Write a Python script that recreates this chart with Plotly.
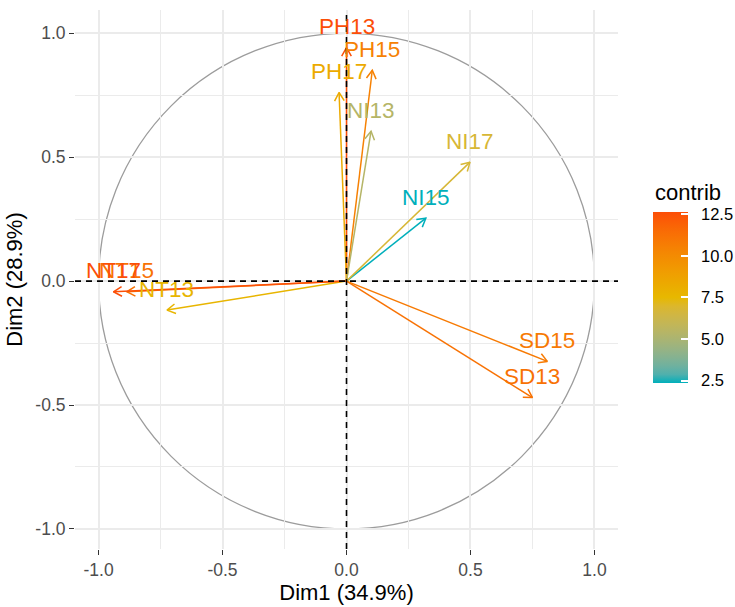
import math
import plotly.graph_objects as go

# ---- data ----
variables = ["NT13", "NT15", "NT17", "PH13", "PH15", "PH17",
             "NI13", "NI15", "NI17", "SD13", "SD15"]
dim1 = [-0.724, -0.886, -0.940, 0.000, 0.104, -0.030,
        0.099, 0.320, 0.498, 0.750, 0.810]
dim2 = [-0.117, -0.043, -0.043, 0.942, 0.851, 0.761,
        0.605, 0.254, 0.480, -0.470, -0.324]
contrib = [7.7, 11.2, 12.6, 12.65, 10.5, 8.3,
           5.4, 2.38, 6.8, 11.2, 10.85]

axis_ticks = [-1.0, -0.5, 0.0, 0.5, 1.0]
axis_ticktext = ["-1.0", "-0.5", "0.0", "0.5", "1.0"]
cbar_ticks = [2.5, 5.0, 7.5, 10.0, 12.5]
cbar_ticktext = ["2.5", "5.0", "7.5", "10.0", "12.5"]
cbar_title = "contrib"
xtitle = "Dim1 (34.9%)"
ytitle = "Dim2 (28.9%)"

gradient_cols = ["#00AFBB", "#E7B800", "#FC4E07"]
cmin, cmax = 2.38, 12.65

FONT = "Liberation Sans, Arial, sans-serif"


# ---- Lab-space gradient (as ggplot's gradientn) ----
def hex_to_rgb(h):
    h = h.lstrip("#")
    return [int(h[i:i + 2], 16) / 255 for i in (0, 2, 4)]


def srgb_to_lin(c):
    return c / 12.92 if c <= 0.04045 else ((c + 0.055) / 1.055) ** 2.4


def lin_to_srgb(c):
    c = min(max(c, 0.0), 1.0)
    return 12.92 * c if c <= 0.0031308 else 1.055 * c ** (1 / 2.4) - 0.055


WHITE = (0.95047, 1.0, 1.08883)


def rgb_to_lab(rgb):
    r, g, b = [srgb_to_lin(c) for c in rgb]
    X = 0.4124 * r + 0.3576 * g + 0.1805 * b
    Y = 0.2126 * r + 0.7152 * g + 0.0722 * b
    Z = 0.0193 * r + 0.1192 * g + 0.9505 * b

    def f(t):
        return t ** (1 / 3) if t > 216 / 24389 else (24389 / 27 * t + 16) / 116
    fx, fy, fz = f(X / WHITE[0]), f(Y / WHITE[1]), f(Z / WHITE[2])
    return (116 * fy - 16, 500 * (fx - fy), 200 * (fy - fz))


def lab_to_hex(lab):
    L, a, bb = lab
    fy = (L + 16) / 116
    fx = fy + a / 500
    fz = fy - bb / 200

    def finv(t):
        return t ** 3 if t ** 3 > 216 / 24389 else (116 * t - 16) / (24389 / 27)
    X, Y, Z = finv(fx) * WHITE[0], finv(fy) * WHITE[1], finv(fz) * WHITE[2]
    r = 3.2406 * X - 1.5372 * Y - 0.4986 * Z
    g = -0.9689 * X + 1.8758 * Y + 0.0415 * Z
    b = 0.0557 * X - 0.2040 * Y + 1.0570 * Z
    return "#%02x%02x%02x" % tuple(round(lin_to_srgb(c) * 255) for c in (r, g, b))


labs = [rgb_to_lab(hex_to_rgb(c)) for c in gradient_cols]


def lab_color(t):
    t = min(max(t, 0.0), 1.0)
    seg = min(int(t * (len(labs) - 1)), len(labs) - 2)
    u = t * (len(labs) - 1) - seg
    a, b = labs[seg], labs[seg + 1]
    return lab_to_hex(tuple(a[i] + (b[i] - a[i]) * u for i in range(3)))


colorscale = [[i / 20, lab_color(i / 20)] for i in range(21)]
colors = [lab_color((v - cmin) / (cmax - cmin)) for v in contrib]

fig = go.Figure()

# arrows: stem + open chevron head (30 deg, fixed length in data units)
HEAD = 0.039
for name, x, y, c in zip(variables, dim1, dim2, colors):
    th = math.atan2(y, x)
    a1 = th + math.pi - math.pi / 6
    a2 = th + math.pi + math.pi / 6
    xs = [0, x, None, x + HEAD * math.cos(a1), x, x + HEAD * math.cos(a2)]
    ys = [0, y, None, y + HEAD * math.sin(a1), y, y + HEAD * math.sin(a2)]
    fig.add_trace(go.Scatter(x=xs, y=ys, mode="lines",
                             line=dict(color=c, width=1.5),
                             hoverinfo="skip", showlegend=False, name=name))

# invisible trace carrying the colour bar
fig.add_trace(go.Scatter(
    x=dim1, y=dim2, mode="markers",
    marker=dict(size=1, opacity=0, color=contrib, colorscale=colorscale,
                cmin=cmin, cmax=cmax, showscale=True,
                colorbar=dict(
                    thickness=35, lenmode="pixels", len=171,
                    xref="container", x=0.8884, xanchor="left", xpad=0,
                    yref="container", y=0.2900, yanchor="bottom", ypad=0,
                    tickvals=cbar_ticks,
                    ticktext=["\u00a0\u00a0" + t for t in cbar_ticktext],
                    ticks="inside", ticklen=7, tickcolor="white", tickwidth=1.5,
                    tickfont=dict(size=16.5, color="#000", family=FONT),
                    outlinewidth=0)),
    hoverinfo="skip", showlegend=False))

shapes = [
    dict(type="line", xref="paper", yref="y", x0=0, x1=1, y0=0, y1=0,
         line=dict(color="black", width=1.6, dash="6px,5px"), layer="above"),
    dict(type="line", xref="x", yref="paper", x0=0, x1=0, y0=0, y1=1,
         line=dict(color="black", width=1.6, dash="6px,5px"), layer="above"),
    dict(type="circle", xref="x", yref="y", x0=-1, x1=1, y0=-1, y1=1,
         line=dict(color="#9C9C9C", width=1.3), layer="below"),
]

annotations = []
for name, x, y, c in zip(variables, dim1, dim2, colors):
    annotations.append(dict(
        x=x, y=y, xref="x", yref="y", text=name, showarrow=False,
        xanchor="center", yanchor="middle", yshift=21,
        font=dict(size=22.5, color=c, family=FONT)))
annotations.append(dict(
    x=1.0645, y=0.6623, xref="paper", yref="paper",
    text=cbar_title, showarrow=False, xanchor="left", yanchor="middle",
    font=dict(size=22, color="#000", family=FONT)))

axis_common = dict(
    tickvals=axis_ticks, ticktext=axis_ticktext,
    showgrid=True, gridcolor="#EBEBEB", gridwidth=1.6,
    minor=dict(dtick=0.25, tick0=0.25, showgrid=True,
               gridcolor="#EBEBEB", gridwidth=0.8),
    zeroline=False, showline=False, automargin=False,
    ticks="outside", ticklen=5, tickwidth=1.3, tickcolor="#333",
    tickfont=dict(size=17.5, color="#4D4D4D", family=FONT),
)

fig.update_layout(
    width=735, height=607,
    margin=dict(l=75, r=117, t=10, b=58),
    paper_bgcolor="white", plot_bgcolor="white",
    shapes=shapes, annotations=annotations,
    xaxis=dict(range=[-1.095, 1.095],
               title=dict(text=xtitle, standoff=2,
                          font=dict(size=22, color="#000", family=FONT)),
               **axis_common),
    yaxis=dict(range=[-1.081, 1.094],
               title=dict(text=ytitle, standoff=6,
                          font=dict(size=22, color="#000", family=FONT)),
               **axis_common),
    font=dict(family=FONT),
)

fig.write_html("out.html",
               config={"displayModeBar": False},
               post_script="document.body.style.margin='0';"
                           "document.body.style.padding='0';")
